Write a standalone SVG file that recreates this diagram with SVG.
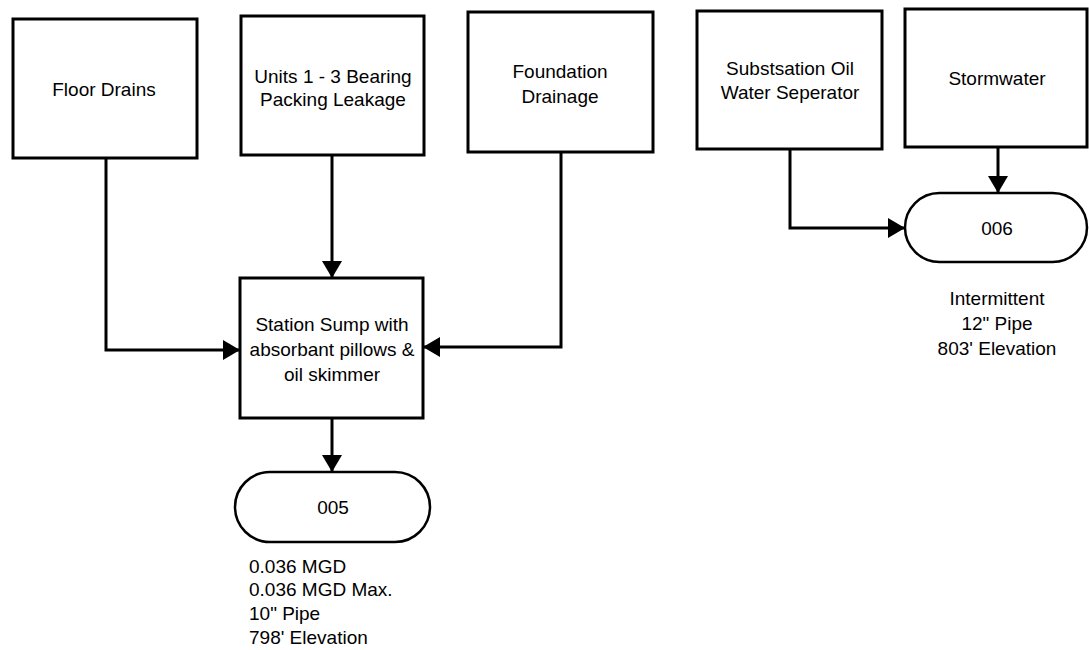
<svg xmlns="http://www.w3.org/2000/svg" width="1089" height="650" viewBox="0 0 1089 650">
<defs>
<style>
.box{fill:#fff;stroke:#000;stroke-width:3}
.term{fill:#fff;stroke:#000;stroke-width:2.5}
.wire{fill:none;stroke:#000;stroke-width:3}
text{font-family:"Liberation Sans",Arial,sans-serif;font-size:19px;fill:#000}
.c{text-anchor:middle}
</style>
<marker id="ah" markerUnits="userSpaceOnUse" markerWidth="18" markerHeight="20" refX="17" refY="10" orient="auto">
<path d="M0,0 L17,10 L0,20 Z" fill="#000"/>
</marker>
</defs>
<rect width="1089" height="650" fill="#fff"/>
<g id="connectors">
<path class="wire" d="M106,158 V350 H240" marker-end="url(#ah)"/>
<path class="wire" d="M332,155 V278" marker-end="url(#ah)"/>
<path class="wire" d="M561,152 V347 H423" marker-end="url(#ah)"/>
<path class="wire" d="M332,418 V472" marker-end="url(#ah)"/>
<path class="wire" d="M790,149 V228 H905" marker-end="url(#ah)"/>
<path class="wire" d="M998,147 V193" marker-end="url(#ah)"/>
</g>
<g id="floor-drains">
<rect class="box" x="13" y="19" width="184" height="139"/>
<text class="c" x="104" y="96">Floor Drains</text>
</g>
<g id="bearing-leakage">
<rect class="box" x="241" y="16" width="183" height="139"/>
<text class="c" x="333" y="83">Units 1 - 3 Bearing</text>
<text class="c" x="333" y="106">Packing Leakage</text>
</g>
<g id="foundation-drainage">
<rect class="box" x="468" y="12" width="185" height="140"/>
<text class="c" x="560" y="78">Foundation</text>
<text class="c" x="560" y="103">Drainage</text>
</g>
<g id="substation">
<rect class="box" x="697" y="11" width="185" height="138"/>
<text class="c" x="790" y="75">Substsation Oil</text>
<text class="c" x="790" y="99">Water Seperator</text>
</g>
<g id="stormwater">
<rect class="box" x="905" y="9" width="182" height="138"/>
<text class="c" x="997" y="85">Stormwater</text>
</g>
<g id="station-sump">
<rect class="box" x="240" y="278" width="183" height="140"/>
<text class="c" x="332" y="331">Station Sump with</text>
<text class="c" x="332" y="356">absorbant pillows &amp;</text>
<text class="c" x="332" y="381">oil skimmer</text>
</g>
<g id="outfall-005">
<rect class="term" x="235" y="472" width="195" height="70" rx="35"/>
<text class="c" x="333" y="514">005</text>
<text x="249" y="573">0.036 MGD</text>
<text x="249" y="596">0.036 MGD Max.</text>
<text x="249" y="620">10" Pipe</text>
<text x="249" y="644">798' Elevation</text>
</g>
<g id="outfall-006">
<rect class="term" x="905" y="193" width="182" height="69" rx="34.5"/>
<text class="c" x="997" y="235">006</text>
<text class="c" x="997" y="305">Intermittent</text>
<text class="c" x="997" y="330">12" Pipe</text>
<text class="c" x="997" y="355">803' Elevation</text>
</g>
</svg>
